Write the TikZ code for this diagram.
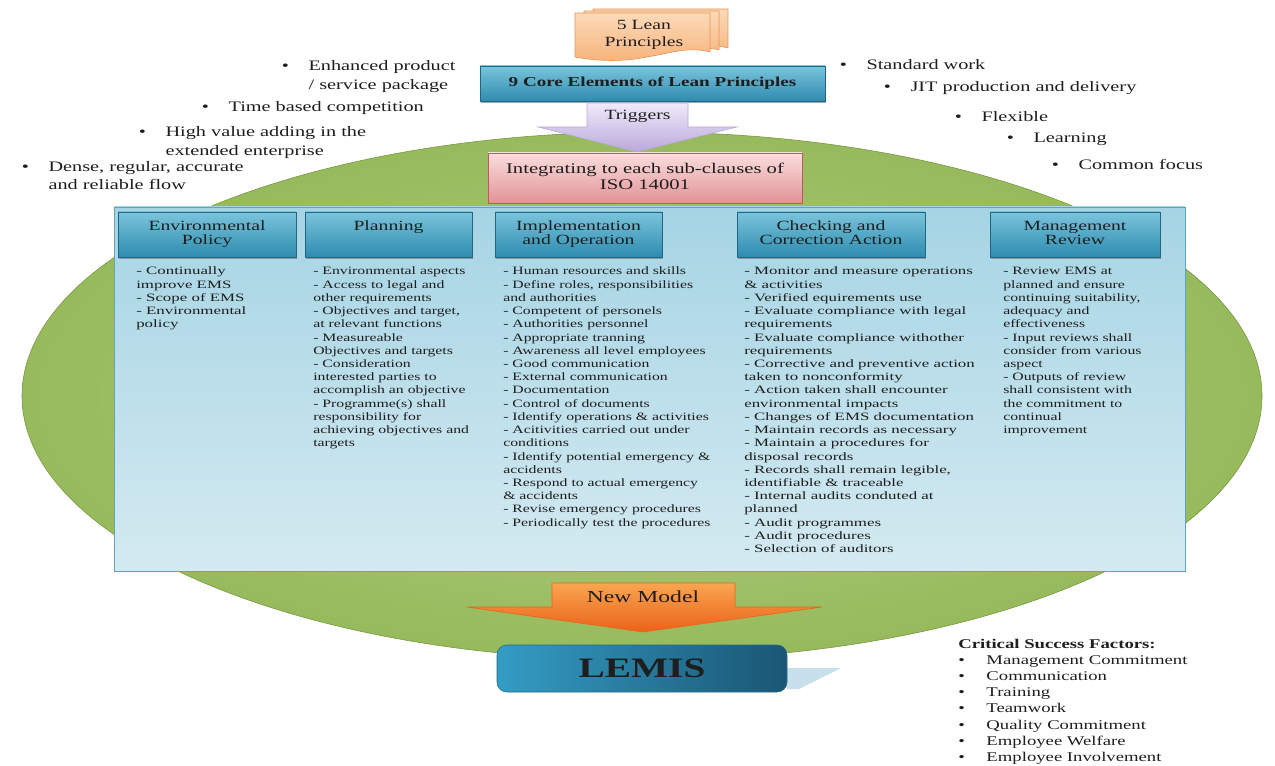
\documentclass[tikz,border=0pt]{standalone}
\usepackage{fontspec}
\setmainfont{Liberation Serif}
\usepackage{graphicx}
\usetikzlibrary{shapes.geometric, shadows, positioning}
\definecolor{fieldin}{RGB}{178,206,134}
\definecolor{fieldout}{RGB}{150,186,92}
\definecolor{fieldedge}{RGB}{118,150,62}
\definecolor{panelA}{RGB}{165,212,228}
\definecolor{panelB}{RGB}{212,234,241}
\definecolor{paneledge}{RGB}{96,165,190}
\definecolor{tealA}{RGB}{122,196,220}
\definecolor{tealB}{RGB}{46,140,175}
\definecolor{tealedge}{RGB}{34,100,130}
\definecolor{peachA}{RGB}{252,218,185}
\definecolor{peachB}{RGB}{246,172,112}
\definecolor{peachedge}{RGB}{232,148,80}
\definecolor{lilacA}{RGB}{240,234,250}
\definecolor{lilacB}{RGB}{186,168,218}
\definecolor{pinkA}{RGB}{250,222,222}
\definecolor{pinkB}{RGB}{226,146,150}
\definecolor{pinkedge}{RGB}{190,90,90}
\definecolor{orangeA}{RGB}{250,165,80}
\definecolor{orangeB}{RGB}{234,98,24}
\definecolor{lemisA}{RGB}{52,156,196}
\definecolor{lemisB}{RGB}{26,86,116}
\definecolor{lemisshade}{RGB}{200,224,236}
\definecolor{ink}{RGB}{30,30,30}
\newdimen\pxu \pxu=0.025cm
\newcommand{\wide}[2][1.4]{\scalebox{#1}[1]{#2}}

\begin{document}
\begin{tikzpicture}[
    x=0.025cm, y=-0.025cm,
    field/.style={ellipse, minimum width=1240*\pxu, minimum height=528*\pxu, inner color=fieldin, outer color=fieldout, draw=fieldedge},
    panel/.style={rectangle, minimum width=1071*\pxu, minimum height=364*\pxu, top color=panelA, bottom color=panelB, draw=paneledge},
    head/.style={rectangle, draw=tealedge, top color=tealA, bottom color=tealB, inner sep=0pt, minimum height=45*\pxu, font=\fontsize{10}{10.6}\selectfont, text=ink, drop shadow={shadow xshift=0.4pt, shadow yshift=-1.4pt, opacity=0.7}},
    core/.style={head, minimum width=345*\pxu, minimum height=35*\pxu, font=\fontsize{9.7}{11}\selectfont\bfseries},
    iso/.style={rectangle, draw=pinkedge, top color=pinkA, bottom color=pinkB, inner sep=0pt, minimum width=314*\pxu, minimum height=50*\pxu, font=\fontsize{10.5}{11.3}\selectfont, text=ink, drop shadow={shadow xshift=0.6pt, shadow yshift=-0.8pt, opacity=0.3}},
    doc/.style={top color=peachA, bottom color=peachB, draw=peachedge},
    lemisbox/.style={rectangle, rounded corners=7pt, left color=lemisA, right color=lemisB, draw=lemisA!70!black, minimum width=290*\pxu, minimum height=47*\pxu, font=\fontsize{20}{22}\selectfont\bfseries, text=ink},
    lbl/.style={inner sep=0pt, text=ink},
    bul/.style={inner sep=0pt, anchor=base west, text=ink, font=\fontsize{10.3}{13.5}\selectfont},
    lst/.style={inner sep=0pt, anchor=base west, text=ink, font=\fontsize{8}{9.4}\selectfont},
    csf/.style={inner sep=0pt, anchor=base west, text=ink, font=\fontsize{9.5}{11.55}\selectfont}
]
    \path[use as bounding box, fill=white] (0,0) rectangle (1275,766);

    \node[field] (field) at (642,396) {};
    \node[panel] (panel) at (649.5,389) {};

    \foreach \dx/\dy in {18/-4, 9/-2, 0/0}
        \shadedraw[doc, shift={(\dx,\dy)}] (575,13) -- (710,13) -- (710,52) .. controls (672,42) and (645,70) .. (575,57) -- cycle;
    \node[lbl, font=\fontsize{10}{12}\selectfont] (leanfive) at (644,35) {\wide{\begin{tabular}{@{}c@{}}5 Lean\\Principles\end{tabular}}};

    \node[core] (coreel) at (652.5,83.5) {\wide{9 Core Elements of Lean Principles}};

    \shadedraw[top color=lilacA, bottom color=lilacB, draw=lilacB] (587,103) -- (688,103) -- (688,127) -- (737,127) -- (637,152) -- (538,127) -- (587,127) -- cycle;
    \node[lbl, font=\fontsize{10}{12}\selectfont] (trig) at (637.5,116) {\wide{Triggers}};

    \node[iso] (isobox) at (645,178) {\wide{\begin{tabular}{@{}c@{}}Integrating to each sub-clauses of\\ISO 14001\end{tabular}}};

    \node[bul] (ptenh) at (281.5,71) {\wide{\begin{tabular}[t]{@{}l@{\hspace{10pt}}l@{}}\textbullet & Enhanced product\\ & / service package\end{tabular}}};
    \node[bul] (pttime) at (201.5,112) {\wide{\begin{tabular}[t]{@{}l@{\hspace{10pt}}l@{}}\textbullet & Time based competition\end{tabular}}};
    \node[bul] (pthigh) at (138.5,137) {\wide{\begin{tabular}[t]{@{}l@{\hspace{10pt}}l@{}}\textbullet & High value adding in the\\ & extended enterprise\end{tabular}}};
    \node[bul, font=\fontsize{10.3}{12.8}\selectfont] (ptdense) at (21.5,172) {\wide{\begin{tabular}[t]{@{}l@{\hspace{10pt}}l@{}}\textbullet & Dense, regular, accurate\\ & and reliable flow\end{tabular}}};
    \node[bul] (ptstd) at (839.5,70) {\wide{\begin{tabular}[t]{@{}l@{\hspace{10pt}}l@{}}\textbullet & Standard work\end{tabular}}};
    \node[bul] (ptjit) at (883.5,92) {\wide{\begin{tabular}[t]{@{}l@{\hspace{10pt}}l@{}}\textbullet & JIT production and delivery\end{tabular}}};
    \node[bul] (ptflex) at (954.5,122) {\wide{\begin{tabular}[t]{@{}l@{\hspace{10pt}}l@{}}\textbullet & Flexible\end{tabular}}};
    \node[bul] (ptlearn) at (1006.5,143) {\wide{\begin{tabular}[t]{@{}l@{\hspace{10pt}}l@{}}\textbullet & Learning\end{tabular}}};
    \node[bul] (ptfocus) at (1051.5,170) {\wide{\begin{tabular}[t]{@{}l@{\hspace{10pt}}l@{}}\textbullet & Common focus\end{tabular}}};

    \node[head, minimum width=178*\pxu] (hdpolicy) at (207,234.5) {\wide{\begin{tabular}{@{}c@{}}Environmental\\Policy\end{tabular}}};
    \node[head, minimum width=167*\pxu] (hdplan) at (388.5,234.5) {\wide{\begin{tabular}{@{}c@{}}Planning\\ \mbox{}\end{tabular}}};
    \node[head, minimum width=167*\pxu] (hdimpl) at (578.5,234.5) {\wide{\begin{tabular}{@{}c@{}}Implementation\\and Operation\end{tabular}}};
    \node[head, minimum width=188*\pxu] (hdcheck) at (831,234.5) {\wide{\begin{tabular}{@{}c@{}}Checking and\\Correction Action\end{tabular}}};
    \node[head, minimum width=170*\pxu] (hdreview) at (1075,234.5) {\wide{\begin{tabular}{@{}c@{}}Management\\Review\end{tabular}}};

    \node[lst] (txpolicy) at (136,275) {\wide[1.5]{\begin{tabular}[t]{@{}l@{}}
        - Continually\\ improve EMS\\ - Scope of EMS\\ - Environmental\\ policy
    \end{tabular}}};
    \node[lst] (txplan) at (313,275) {\wide{\begin{tabular}[t]{@{}l@{}}
        - Environmental aspects\\ - Access to legal and\\ other requirements\\
        - Objectives and target,\\ at relevant functions\\ - Measureable\\
        Objectives and targets\\ - Consideration\\ interested parties to\\
        accomplish an objective\\ - Programme(s) shall\\ responsibility for\\
        achieving objectives and\\ targets
    \end{tabular}}};
    \node[lst] (tximpl) at (503,275) {\wide{\begin{tabular}[t]{@{}l@{}}
        - Human resources and skills\\ - Define roles, responsibilities\\ and authorities\\
        - Competent of personels\\ - Authorities personnel\\ - Appropriate tranning\\
        - Awareness all level employees\\ - Good communication\\ - External communication\\
        - Documentation\\ - Control of documents\\ - Identify operations \& activities\\
        - Acitivities carried out under\\ conditions\\ - Identify potential emergency \&\\
        accidents\\ - Respond to actual emergency\\ \& accidents\\
        - Revise emergency procedures\\ - Periodically test the procedures
    \end{tabular}}};
    \node[lst] (txcheck) at (744,275) {\wide[1.5]{\begin{tabular}[t]{@{}l@{}}
        - Monitor and measure operations\\ \& activities\\ - Verified equirements use\\
        - Evaluate compliance with legal\\ requirements\\ - Evaluate compliance withother\\
        requirements\\ - Corrective and preventive action\\ taken to nonconformity\\
        - Action taken shall encounter\\ environmental impacts\\ - Changes of EMS documentation\\
        - Maintain records as necessary\\ - Maintain a procedures for\\ disposal records\\
        - Records shall remain legible,\\ identifiable \& traceable\\ - Internal audits conduted at\\
        planned\\ - Audit programmes\\ - Audit procedures\\ - Selection of auditors
    \end{tabular}}};
    \node[lst] (txreview) at (1003,275) {\wide{\begin{tabular}[t]{@{}l@{}}
        - Review EMS at\\ planned and ensure\\ continuing suitability,\\ adequacy and\\
        effectiveness\\ - Input reviews shall\\ consider from various\\ aspect\\
        - Outputs of review\\ shall consistent with\\ the commitment to\\ continual\\ improvement
    \end{tabular}}};

    \shadedraw[top color=orangeA, bottom color=orangeB, draw=orangeB] (552,583) -- (735,583) -- (735,607) -- (822,607) -- (643,632) -- (467,607) -- (552,607) -- cycle;
    \node[lbl, font=\fontsize{12}{14}\selectfont] (newmod) at (643,597) {\wide{New Model}};

    \fill[lemisshade] (787,668) -- (841,668) -- (799,689) -- (787,689) -- cycle;
    \node[lemisbox] (lemis) at (642,668.5) {\wide{LEMIS}};

    \node[csf] (csflist) at (958,648) {\wide{\begin{tabular}[t]{@{}l@{\hspace{11pt}}l@{}}
        \multicolumn{2}{@{}l@{}}{\textbf{Critical Success Factors:}}\\
        \textbullet & Management Commitment\\ \textbullet & Communication\\
        \textbullet & Training\\ \textbullet & Teamwork\\ \textbullet & Quality Commitment\\
        \textbullet & Employee Welfare\\ \textbullet & Employee Involvement
    \end{tabular}}};
\end{tikzpicture}
\end{document}
